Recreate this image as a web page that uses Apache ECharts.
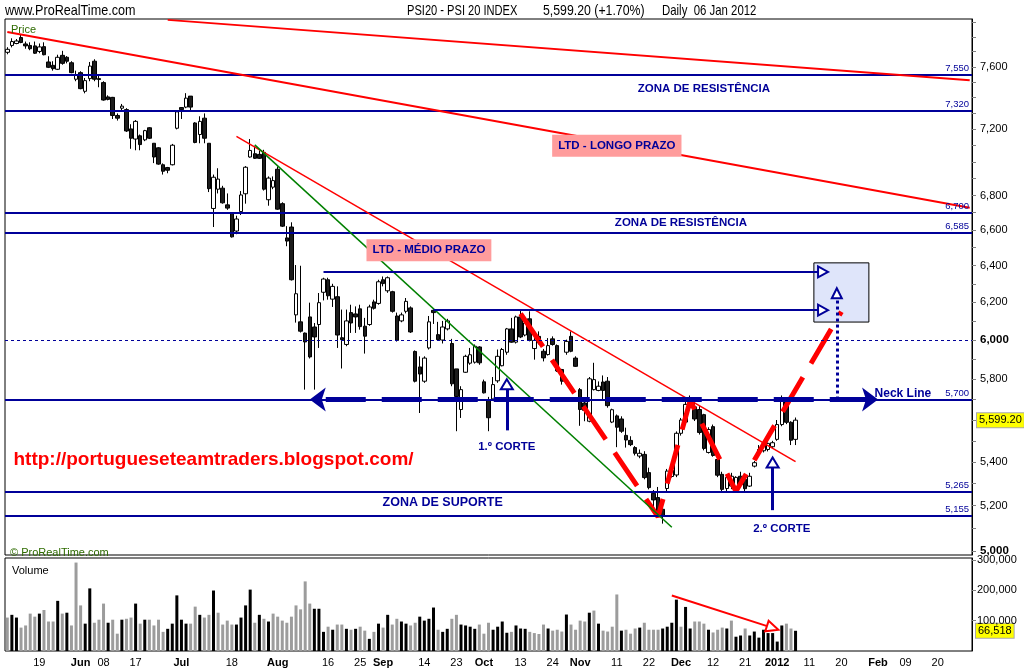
<!DOCTYPE html>
<html>
<head>
<meta charset="utf-8">
<script src="https://cdn.jsdelivr.net/npm/echarts@6/dist/echarts.min.js"></script>
<style>html,body{margin:0;padding:0;background:#fff}#c{width:1024px;height:671px}</style>
</head>
<body>
<div id="c"></div>
<script>
// ---------- DATA ----------
const firstDay = '2011-05-10';
const lastDay = '2012-02-29';
const marketHolidays = ['2011-12-26'];

const opens = [7696,7742,7755,7795,7752,7742,7739,7702,7734,7632, 7610,7584,7676,7663,7627,7519,7562,7441,7523,7637, 7523,7497,7405,7402,7287,7333,7324,7203,7140,7160, 7135,7210,7114,7086,6983,6966,6983,7207,7337,7340, 7410,7240,7168,7270,7114,6724,6837,6843,6745,6699, 6594,6706,6810,7030,7050,7046,7058,6775,6849,6956, 6752,6555,6617,6133,6096,6037,6122,6069,6082,6254, 6322,6217,6230,6013,5978,6145,6138,6165,6073,6082, 6202,6194,6322,6262,6257,6127,6101,6152,6170,5942, 5863,5791,5960,6157,6029,6001,6059,5983,5853,5651, 5836,5882,5887,5965,5788,5700,5703,5793,5869,5938, 6059,5990,6122,6027,6112,5957,6020,5943,5926,6007, 5972,5850,5938,6020,5908,5749,5683,5594,5749,5745, 5787,5791,5590,5620,5605,5526,5502,5468,5428,5436, 5351,5256,5237,5184,5278,5333,5340,5536,5590,5660, 5664,5651,5626,5445,5568,5412,5343,5278,5289,5274, 5334,5320,5289,5381,5444,5453,5459,5472,5507,5578, 5692,5589,5507];
const closes = [7716,7768,7772,7762,7739,7720,7690,7732,7680,7597, 7588,7663,7623,7637,7562,7549,7458,7510,7605,7519, 7517,7385,7389,7287,7270,7346,7190,7145,7250,7106, 7192,7145,7030,6987,6944,6950,7102,7310,7324,7397, 7340,7119,7250,7145,6840,6908,6897,6757,6726,6561, 6663,6803,6968,7070,7022,7022,6837,6903,6888,6720, 6622,6537,6322,6246,6047,5991,5914,6017,6198,6326, 6235,6286,6027,6003,6101,6090,6122,6071,6021,6175, 6168,6311,6301,6333,6152,5999,6133,6205,6043,5791, 5827,5908,6096,6145,6003,6069,6101,5778,5715,5749, 5917,5925,5969,5884,5733,5611,5774,5917,5952,6059, 5990,6122,6017,6090,5999,5999,5986,5909,5972,5978, 5843,5791,5994,5943,5866,5651,5647,5803,5799,5766, 5745,5670,5650,5565,5546,5504,5482,5441,5441,5328, 5282,5226,5166,5155,5358,5362,5536,5600,5676,5690, 5605,5540,5464,5554,5431,5339,5274,5329,5334,5329, 5296,5277,5334,5397,5459,5484,5488,5491,5578,5697, 5589,5503,5599.2];
const lows = [7683,7729,7750,7757,7720,7710,7685,7690,7676,7592, 7575,7579,7614,7623,7558,7506,7454,7428,7506,7506, 7467,7381,7383,7265,7255,7320,7184,7080,7071,7071, 7127,7140,6993,6983,6924,6932,6979,7200,7265,7333, 7320,7114,7114,7114,6820,6617,6812,6752,6716,6557, 6576,6686,6752,7026,7018,7018,6829,6740,6837,6716, 6617,6508,6318,6092,6040,5749,5906,5749,5960,6210, 6214,6175,5960,5855,5969,6038,6038,6055,5931,6075, 6161,6187,6286,6251,6145,5993,6094,6141,6038,5785, 5634,5783,5952,6085,5999,5983,6051,5766,5546,5610, 5833,5874,5880,5874,5730,5546,5700,5783,5866,5925, 5987,5983,6011,6020,5994,5900,5978,5891,5921,5972, 5838,5774,5925,5938,5863,5572,5594,5589,5745,5741, 5700,5660,5585,5470,5538,5468,5475,5431,5418,5320, 5274,5184,5154,5120,5260,5328,5330,5525,5580,5650, 5595,5530,5455,5440,5425,5330,5265,5265,5275,5265, 5283,5265,5285,5375,5435,5445,5450,5465,5500,5570, 5580,5480,5480];
const highs = [7730,7790,7785,7818,7768,7763,7768,7755,7763,7670, 7637,7680,7706,7671,7637,7575,7571,7527,7632,7650, 7540,7506,7415,7405,7300,7360,7333,7232,7258,7168, 7197,7214,7114,7090,6991,6970,7110,7320,7340,7429, 7410,7245,7282,7300,7114,6924,6962,6857,6812,6702, 6682,6826,6975,7140,7094,7070,7074,6913,6913,6972, 6760,6622,6644,6403,6399,6040,6198,6090,6250,6333, 6333,6300,6286,6161,6161,6187,6178,6187,6117,6187, 6214,6322,6340,6340,6262,6145,6145,6223,6178,5947, 5917,5917,6127,6161,6096,6101,6112,6007,5853,5766, 5925,5960,5978,5969,5799,5713,5812,5952,5960,6064, 6117,6129,6157,6122,6152,6011,6046,5955,6011,6020, 5978,5853,6003,6046,5917,5757,5691,5812,5884,5790, 5820,5812,5655,5627,5618,5563,5522,5475,5459,5451, 5374,5271,5285,5214,5368,5372,5545,5610,5690,5720, 5700,5668,5630,5565,5578,5420,5355,5340,5350,5334, 5355,5340,5350,5405,5480,5490,5492,5500,5600,5720, 5710,5594,5612];
const volumes = [110000,119000,110000,77000,84000,123000,113000,123000,135000,97000, 97000,165000,123000,126000,84000,291000,150000,90000,206000,93000, 103000,156000,93000,103000,57000,103000,106000,110000,156000,90000, 103000,103000,84000,103000,63000,73000,90000,183000,103000,90000, 90000,146000,119000,110000,119000,199000,126000,87000,100000,87000, 87000,110000,150000,202000,93000,119000,106000,97000,123000,113000, 100000,93000,113000,150000,137000,229000,156000,139000,139000,63000, 80000,70000,87000,87000,73000,70000,73000,80000,67000,40000, 63000,90000,77000,119000,87000,106000,97000,90000,84000,93000, 113000,100000,106000,143000,70000,63000,73000,106000,119000,87000, 84000,80000,73000,87000,57000,93000,70000,80000,97000,60000, 63000,84000,74000,73000,63000,59000,56000,87000,74000,67000, 70000,64000,120000,87000,70000,100000,97000,126000,133000,90000, 67000,64000,80000,186000,67000,70000,57000,74000,77000,93000, 70000,70000,70000,74000,80000,93000,169000,80000,145000,74000, 97000,97000,90000,70000,61000,70000,77000,74000,100000,47000, 51000,74000,51000,64000,44000,70000,59000,59000,31000,84000, 90000,74000,66518];
// 1 = dark volume bar, 0 = grey volume bar
const volDark = [0,1,1,0,0,0,0,1,0,0, 0,1,0,1,0,0,0,1,1,0, 0,0,1,0,0,1,0,0,1,0, 1,0,0,0,0,1,1,1,1,1, 0,0,1,0,0,1,0,0,0,0, 1,1,1,1,0,1,0,1,0,0, 0,0,0,0,0,0,0,1,1,1, 0,1,0,0,1,0,1,0,0,1, 0,1,0,1,0,0,1,1,0,0, 1,1,1,1,0,1,1,0,0,1, 1,1,1,0,0,0,1,1,1,1, 0,1,1,1,0,0,0,0,1,0, 0,0,1,0,0,0,0,1,0,1, 0,0,0,0,1,0,0,0,1,0, 0,0,0,1,1,1,1,0,1,1, 0,0,0,1,0,0,0,1,0,1, 1,0,1,1,1,1,1,1,1,1, 0,0,1];

const tickDates = ['2011-05-19','2011-06-01','2011-06-08','2011-06-17','2011-07-01','2011-07-18','2011-08-01','2011-08-16','2011-08-25','2011-09-01','2011-09-14','2011-09-23','2011-10-03','2011-10-13','2011-10-24','2011-11-01','2011-11-11','2011-11-22','2011-12-01','2011-12-12','2011-12-21','2012-01-02','2012-01-11','2012-01-20','2012-02-01','2012-02-09','2012-02-20'];
const tickTexts = ['19','Jun','08','17','Jul','18','Aug','16','25','Sep','14','23','Oct','13','24','Nov','11','22','Dec','12','21','2012','11','20','Feb','09','20'];
const boldTicks = ['Jun','Jul','Aug','Sep','Oct','Nov','Dec','2012','Feb'];

const priceLabelValues = [5000,5200,5400,5800,6000,6200,6400,6600,6800,7200,7600];
const priceBoldValues = [5000,6000];
const volumeLabelValues = [100000,200000,300000];

const levelValues = [7550,7320,6700,6585,5700,5265,5155];
const roundLevel = 6000;

// trend lines [startDate, startPrice, endDate, endPrice]
const ltdLongA = ['2011-06-28',7915,'2012-02-29',7512];
const ltdLongB = ['2011-05-10',7832,'2012-02-29',6728];
const ltdMedio = ['2011-07-19',7157,'2012-01-06',5402];
const greenLine = ['2011-07-25',7104,'2011-11-29',5104];
const neckLine = ['2011-08-10',5700,'2012-02-01',5700];
const targetHigh = ['2011-08-15',6365,'2012-01-16',6365];
const targetLow = ['2011-09-16',6158,'2012-01-16',6158];
const corte1 = ['2011-10-10',5550,'2011-10-10',5776];
const corte2 = ['2011-12-30',5180,'2011-12-30',5398];
const projection = ['2012-01-19',5700,'2012-01-19',6249];
const targetBox = ['2012-01-12',6415,'2012-01-30',6095];
const volumeTrend = ['2011-11-29',182500,'2011-12-30',76000];

const wPathDates = ['2011-10-13','2011-11-24','2011-12-05','2011-12-19','2012-01-20'];
const wPathPrices = [6140,5150,5695,5265,6150];

const noteTexts = ['ZONA DE RESISTÊNCIA','ZONA DE RESISTÊNCIA','LTD - LONGO PRAZO','LTD - MÉDIO PRAZO','ZONA DE SUPORTE','1.º CORTE','2.º CORTE'];
const noteDates = ['2011-12-08','2011-12-01','2011-11-11','2011-09-15','2011-09-20','2011-10-10','2012-01-03'];
const notePrices = [7456,6641,7098,6485,5212,5470,5098];
const noteBoxed = [0,0,1,1,0,0,0];
const neckNote = ['Neck Line','2012-02-01',5727];
const urlNote = ['http://portugueseteamtraders.blogspot.com/','2011-07-12',5412];

const headerTexts = ['www.ProRealTime.com','PSI20 - PSI 20 INDEX','5,599.20 (+1.70%)','Daily  06 Jan 2012'];
const lastClose = 5599.2, lastVolume = 66518;

// ---------- BUILD ----------
const dates = [];
(function(){
  const a = new Date(firstDay+'T00:00:00Z').getTime(), b = new Date(lastDay+'T00:00:00Z').getTime();
  for (let t = a; t <= b; t += 86400000) {
    const d = new Date(t), wd = d.getUTCDay();
    if (wd === 0 || wd === 6) continue;
    const s = d.toISOString().slice(0,10);
    if (marketHolidays.indexOf(s) >= 0) continue;
    dates.push(s);
  }
})();

const candleData = opens.map((o,i)=>[o, closes[i], lows[i], highs[i]]);
const volData = volumes.map((v,i)=>({value:v, itemStyle:{color: volDark[i] ? '#000000' : '#9c9c9c'}}));
const wPath = wPathDates.map((d,i)=>[d, wPathPrices[i]]);

const BLUE = '#000099', RED = '#ff0000';
const FONT = 'Liberation Sans, Arial, sans-serif';
const fmt = v => Math.round(v).toString().replace(/\B(?=(\d{3})+(?!\d))/g, ',');

function seg(s, style, endSymbol, endSize, startSymbol, startSize) {
  return [
    {coord:[s[0], s[1]], symbol: startSymbol || 'none', symbolSize: startSize || 10, lineStyle: style},
    {coord:[s[2], s[3]], symbol: endSymbol || 'none', symbolSize: endSize || 10}
  ];
}

const priceLines = [];
levelValues.forEach(v => priceLines.push({
  yAxis: v,
  lineStyle: {color: BLUE, width: 2, type: 'solid'},
  label: {show: true, position: 'insideEndTop', formatter: fmt(v), color: BLUE, fontSize: 9.5, fontFamily: FONT, distance: [3, 1]}
}));
priceLines.push({yAxis: roundLevel, lineStyle: {color: BLUE, width: 1, type: [3,3]}, label: {show: false}});
priceLines.push(seg(ltdLongA, {color: RED, width: 2, type: 'solid'}));
priceLines.push(seg(ltdLongB, {color: RED, width: 2, type: 'solid'}));
priceLines.push(seg(ltdMedio, {color: RED, width: 1.5, type: 'solid'}));
priceLines.push(seg(greenLine, {color: '#008000', width: 1.5, type: 'solid'}));
priceLines.push(seg(neckLine, {color: BLUE, width: 5, type: [40,16], dashOffset: 40}, 'arrow', [18,16], 'arrow', [18,16]));
priceLines.push(seg(targetHigh, {color: BLUE, width: 2, type: 'solid'}, 'emptyTriangle', [11,10]));
priceLines.push(seg(targetLow, {color: BLUE, width: 2, type: 'solid'}, 'emptyTriangle', [11,10]));
priceLines.push(seg(corte1, {color: BLUE, width: 3, type: 'solid'}, 'emptyTriangle', [12,10]));
priceLines.push(seg(corte2, {color: BLUE, width: 3, type: 'solid'}, 'emptyTriangle', [12,10]));
priceLines.push(seg(projection, {color: BLUE, width: 3, type: 'dotted'}, 'emptyTriangle', [10,10]));

const notePoints = noteTexts.map((t,i)=>({
  coord: [noteDates[i], notePrices[i]],
  symbol: 'rect', symbolSize: 1, itemStyle: {color: 'rgba(0,0,0,0)'},
  label: Object.assign({show: true, position: 'inside', formatter: t, color: BLUE, fontWeight: 'bold', fontSize: 11.5, fontFamily: FONT},
    noteBoxed[i] ? {backgroundColor: '#ff9c9c', padding: [5,6,5,6]} : {})
}));
notePoints[4].label.fontSize = 12.5;
notePoints.push({
  coord: [neckNote[1], neckNote[2]], symbol: 'rect', symbolSize: 1, itemStyle: {color: 'rgba(0,0,0,0)'},
  label: {show: true, position: 'right', distance: -4, formatter: neckNote[0], color: BLUE, fontWeight: 'bold', fontSize: 12, fontFamily: FONT}
});
notePoints.push({
  coord: [urlNote[1], urlNote[2]], symbol: 'rect', symbolSize: 1, itemStyle: {color: 'rgba(0,0,0,0)'},
  label: {show: true, position: 'inside', formatter: urlNote[0], color: RED, fontWeight: 'bold', fontSize: 19, fontFamily: FONT}
});

const tickSet = {};
tickDates.forEach((d,i)=>{ tickSet[d] = tickTexts[i]; });

const priceTicks = [];
for (let v = 5000; v <= 7900; v += 100) priceTicks.push(v);

const option = {
  animation: false,
  backgroundColor: '#ffffff',
  title: [
    {text: 'Price', left: 6, top: 19, textStyle: {fontFamily: FONT, fontSize: 11, fontWeight: 'normal', color: '#2e6b00'}},
    {text: '© ProRealTime.com', left: 5, top: 542, textStyle: {fontFamily: FONT, fontSize: 11, fontWeight: 'normal', color: '#2e6b00'}},
    {text: 'Volume', left: 7, top: 560, textStyle: {fontFamily: FONT, fontSize: 11, fontWeight: 'normal', color: '#000'}}
  ],
  graphic: [
    {id: 'h0', type: 'text', x: 5, y: 3, scaleX: 0.84, silent: true, style: {text: headerTexts[0], font: '15px Liberation Sans, Arial', fill: '#000'}},
    {id: 'h1', type: 'text', x: 407, y: 3, scaleX: 0.74, silent: true, style: {text: headerTexts[1], font: '15px Liberation Sans, Arial', fill: '#000'}},
    {id: 'h2', type: 'text', x: 543, y: 3, scaleX: 0.82, silent: true, style: {text: headerTexts[2], font: '15px Liberation Sans, Arial', fill: '#000'}},
    {id: 'h3', type: 'text', x: 662, y: 3, scaleX: 0.76, silent: true, style: {text: headerTexts[3], font: '15px Liberation Sans, Arial', fill: '#000'}}
  ],
  grid: [
    {left: 5, top: 19, width: 967, height: 536, show: true, borderColor: '#000', borderWidth: 1, backgroundColor: '#fff', outerBoundsMode: 'none', containLabel: false},
    {left: 5, top: 558, width: 967, height: 93, show: true, borderColor: '#000', borderWidth: 1, backgroundColor: '#fff', outerBoundsMode: 'none', containLabel: false}
  ],
  xAxis: [
    {type: 'category', gridIndex: 0, data: dates, boundaryGap: true,
     axisLine: {show: false}, axisTick: {show: false}, axisLabel: {show: false}, splitLine: {show: false}},
    {type: 'category', gridIndex: 1, data: dates, boundaryGap: true,
     axisLine: {show: false}, axisTick: {show: false}, splitLine: {show: false},
     axisLabel: {show: true, interval: (idx, val) => tickSet[val] !== undefined, margin: 6,
       fontFamily: FONT, fontSize: 11, color: '#000',
       formatter: val => { const t = tickSet[val]; return boldTicks.indexOf(t) >= 0 ? '{b|' + t + '}' : t; },
       rich: {b: {fontFamily: FONT, fontSize: 11, fontWeight: 'bold', color: '#000'}}}}
  ],
  yAxis: [
    {type: 'log', gridIndex: 0, position: 'right', min: 4983, max: 7921,
     axisLine: {show: true, lineStyle: {color: '#000', width: 1}},
     axisTick: {show: true, customValues: priceTicks, length: 4, lineStyle: {color: '#808080'}},
     splitLine: {show: false},
     axisLabel: {customValues: priceLabelValues, margin: 8, fontFamily: FONT, fontSize: 11, color: '#000',
       formatter: v => priceBoldValues.indexOf(Math.round(v)) >= 0 ? '{b|' + fmt(v) + '}' : fmt(v),
       rich: {b: {fontFamily: FONT, fontSize: 11.5, fontWeight: 'bold', color: '#000'}}}},
    {type: 'value', gridIndex: 1, position: 'right', min: 0, max: 306000,
     axisLine: {show: true, lineStyle: {color: '#000', width: 1}},
     axisTick: {show: true, customValues: volumeLabelValues, length: 4, lineStyle: {color: '#808080'}},
     splitLine: {show: false},
     axisLabel: {customValues: volumeLabelValues, margin: 5, fontFamily: FONT, fontSize: 11, color: '#000', formatter: v => fmt(v)}}
  ],
  series: [
    {type: 'candlestick', name: 'PSI20', xAxisIndex: 0, yAxisIndex: 0, data: candleData, barWidth: 4,
     itemStyle: {color: '#ffffff', color0: '#1c1c1c', borderColor: '#000000', borderColor0: '#000000', borderWidth: 1},
     markLine: {silent: true, animation: false, symbol: 'none', label: {show: false}, data: priceLines},
     markPoint: {silent: true, animation: false, data: notePoints},
     markArea: {silent: true, animation: false,
       data: [[{coord: [targetBox[0], targetBox[1]], itemStyle: {color: '#dfe5fa', borderColor: '#000', borderWidth: 1}},
               {coord: [targetBox[2], targetBox[3]]}]]}},
    {type: 'line', name: 'W', xAxisIndex: 0, yAxisIndex: 0, data: wPath, symbol: 'none', silent: true, z: 3,
     lineStyle: {color: RED, width: 5, type: [40,16], cap: 'butt'}},
    {type: 'bar', name: 'Volume', xAxisIndex: 1, yAxisIndex: 1, data: volData, barWidth: 3,
     markLine: {silent: true, animation: false, symbol: 'none', label: {show: false},
       data: [seg(volumeTrend, {color: RED, width: 2, type: 'solid'}, 'emptyTriangle', [11,12])]}}
  ]
};

const chart = echarts.init(document.getElementById('c'), null, {renderer: 'canvas', width: 1024, height: 671});
chart.setOption(option);

const yLast = chart.convertToPixel({yAxisIndex: 0}, lastClose);
const yVol = chart.convertToPixel({yAxisIndex: 1}, lastVolume);
chart.setOption({graphic: [
  {id: 'tagPrice', type: 'text', x: 977, y: yLast, silent: true,
   style: {text: lastClose.toFixed(2).replace(/^(\d)(\d{3})/, '$1,$2'), verticalAlign: 'middle', font: '11px Liberation Sans, Arial', fill: '#000',
     backgroundColor: '#ffff00', borderColor: '#a8a8a8', borderWidth: 1, padding: [2,2,1,2]}},
  {id: 'tagVol', type: 'text', x: 976, y: yVol, silent: true,
   style: {text: fmt(lastVolume), verticalAlign: 'middle', font: '11px Liberation Sans, Arial', fill: '#000',
     backgroundColor: '#ffff00', borderColor: '#a8a8a8', borderWidth: 1, padding: [2,2,1,2]}}
]});
</script>
</body>
</html>
